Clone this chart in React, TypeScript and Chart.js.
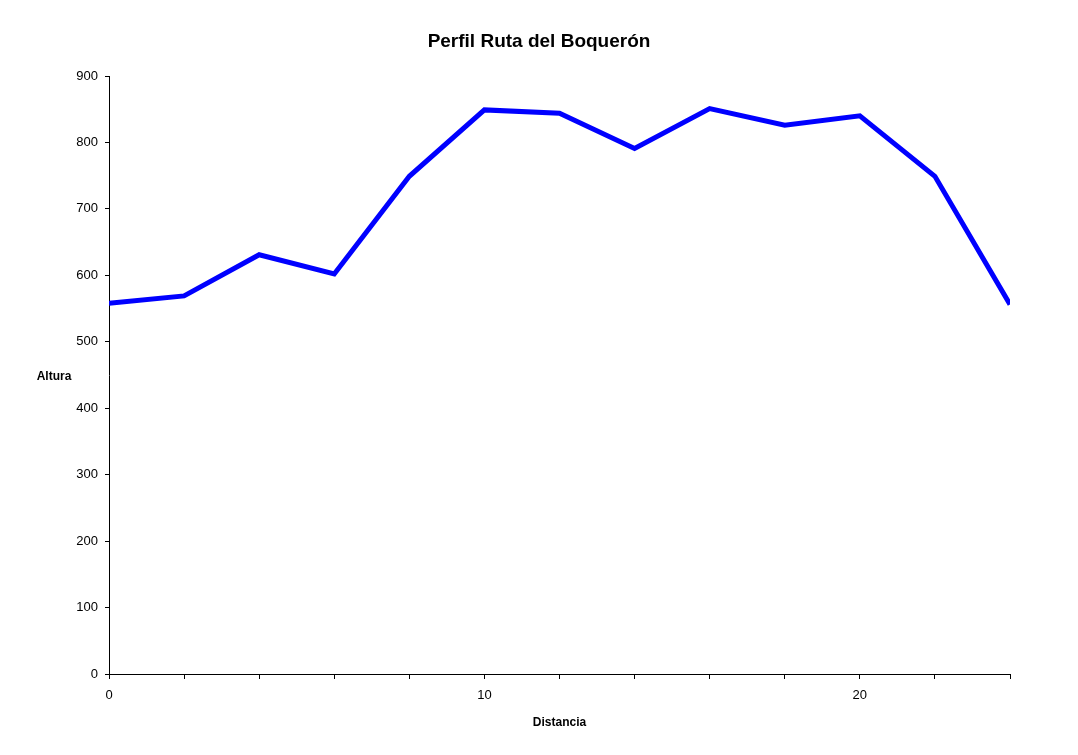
import React, { useEffect, useRef } from "react";
import { Chart, registerables } from "chart.js";

Chart.register(...registerables);

const distancia: number[] = [0, 2, 4, 6, 8, 10, 12, 14, 16, 18, 20, 22, 24];
const altura: number[] = [558, 569, 631, 602, 749, 849, 844, 791, 851, 826, 840, 749, 556];
const yTicks: number[] = [0, 100, 200, 300, 400, 500, 600, 700, 800, 900];
const xLabelled: number[] = [0, 10, 20];

const FONT = '"Liberation Sans", Arial, Helvetica, sans-serif';

const sideTitle = {
  id: "sideTitle",
  afterDraw(chart: any) {
    const ctx = chart.ctx;
    const area = chart.chartArea;
    ctx.save();
    ctx.fillStyle = "#000";
    ctx.font = `bold 12px ${FONT}`;
    ctx.textAlign = "center";
    ctx.textBaseline = "middle";
    ctx.fillText("Altura", 54, (area.top + area.bottom) / 2 + 2);
    ctx.restore();
  },
};

export default function App() {
  const ref = useRef<HTMLCanvasElement | null>(null);

  useEffect(() => {
    if (!ref.current) return;
    const chart = new Chart(ref.current, {
      type: "line",
      data: {
        datasets: [
          {
            data: distancia.map((d, i) => ({ x: d, y: altura[i] })),
            borderColor: "#0000FF",
            backgroundColor: "#0000FF",
            borderWidth: 5,
            pointRadius: 0,
            tension: 0,
          },
        ],
      },
      options: {
        animation: false,
        responsive: false,
        layout: { padding: 0 },
        plugins: {
          legend: { display: false },
          tooltip: { enabled: false },
          title: {
            display: true,
            text: "Perfil Ruta del Boquerón",
            color: "#000",
            font: { family: FONT, size: 19, weight: "bold" },
            padding: { top: 30, bottom: 23.2 },
          },
        },
        scales: {
          x: {
            type: "linear",
            min: 0,
            max: 24,
            afterFit: (s: any) => {
              s.height = 81;
            },
            afterBuildTicks: (s: any) => {
              s.ticks = distancia.map((v) => ({ value: v }));
            },
            ticks: {
              autoSkip: false,
              maxRotation: 0,
              color: "#000",
              font: { family: FONT, size: 13 },
              padding: 9,
              callback: (v: any) => (xLabelled.includes(Number(v)) ? String(v) : ""),
            },
            grid: {
              display: true,
              drawOnChartArea: false,
              drawTicks: true,
              tickLength: 5,
              color: "#000",
              lineWidth: 1,
            },
            border: { display: true, color: "#000", width: 1 },
            title: {
              display: true,
              text: "Distancia",
              color: "#000",
              font: { family: FONT, size: 12, weight: "bold" },
              padding: { top: 0, bottom: 25 },
            },
          },
          y: {
            type: "linear",
            min: 0,
            max: 900,
            afterFit: (s: any) => {
              s.width = 109;
            },
            afterBuildTicks: (s: any) => {
              s.ticks = yTicks.map((v) => ({ value: v }));
            },
            ticks: {
              color: "#000",
              font: { family: FONT, size: 13 },
              padding: 7,
            },
            grid: {
              display: true,
              drawOnChartArea: false,
              drawTicks: true,
              tickLength: 4,
              color: "#000",
              lineWidth: 1,
            },
            border: { display: true, color: "#000", width: 1 },
          },
          spacer: {
            type: "linear",
            position: "right",
            display: true,
            min: 0,
            max: 900,
            afterFit: (s: any) => {
              s.width = 68;
            },
            ticks: { display: false },
            grid: { display: false, drawTicks: false },
            border: { display: false },
          },
        },
      },
      plugins: [sideTitle],
    });
    return () => chart.destroy();
  }, []);

  return (
    <div style={{ position: "absolute", left: 0, top: 0, width: 1078, height: 755, background: "#fff" }}>
      <canvas ref={ref} width={1078} height={755} />
    </div>
  );
}
